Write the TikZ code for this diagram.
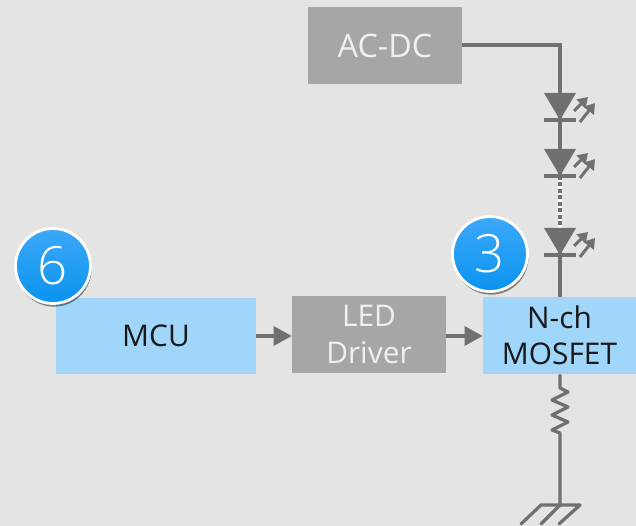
\documentclass[tikz,border=0pt]{standalone}
\usepackage{fontspec}
\setmainfont{Open Sans}
\newfontfamily\lightfont{Open Sans Light}
\usetikzlibrary{arrows.meta,shadows}
\definecolor{bggray}{HTML}{E4E4E4}
\definecolor{boxgray}{HTML}{A6A6A6}
\definecolor{boxblue}{HTML}{9FD6FA}
\definecolor{wiregray}{HTML}{707070}
\definecolor{badgetop}{HTML}{3CA8F9}
\definecolor{badgebot}{HTML}{0A93EF}
\tikzset{gray block/.style={fill=boxgray, text=white!94!black, rectangle, rounded corners=0.5pt, minimum width=3.08cm, minimum height=1.54cm, inner sep=0pt, align=center, font=\fontsize{17}{21}\selectfont}}
\tikzset{blue block/.style={gray block, fill=boxblue, text=black!90, rounded corners=0pt}}
\tikzset{badge/.style={circle, draw=white, line width=1.6pt, top color=badgetop, bottom color=badgebot, text=white, minimum size=1.5cm, inner sep=0pt, font=\lightfont\fontsize{30}{30}\selectfont, drop shadow={shadow xshift=0.6pt, shadow yshift=-1.8pt, opacity=0.45, fill=black}}}
\tikzset{wire/.style={draw=wiregray, line width=1.85pt}}
\tikzset{feed/.style={wire, -{Triangle[length=0.36cm, width=0.38cm]}}}
\tikzset{spark/.style={draw=wiregray, line width=1.7pt, -{Triangle[length=0.2cm, width=0.25cm]}}}
\tikzset{pics/led/.style={code={
  \fill[wiregray] (-16,0) -- (16,0) -- (0,27) -- cycle;
  \draw[wire, line width=1.8pt] (-16,27) -- (16,27);
  \draw[spark] (14,18) -- (28,4);
  \draw[spark] (20,29) -- (35,10);
}}}
\begin{document}
\begin{tikzpicture}[x=0.02cm, y=-0.02cm]
\fill[bggray] (0,0) rectangle (636,526);
\useasboundingbox (0,0) rectangle (636,526);
\node[gray block, font=\fontsize{18.4}{21}\selectfont] (acdc) at (385,45.5) {AC-DC};
\node[blue block, minimum width=4cm, minimum height=1.52cm] (mcu) at (156,336) {MCU};
\node[gray block] (driver) at (369,334.5) {LED\\Driver};
\node[blue block, minimum width=3.06cm] (mosfet) at (559.5,335.5) {N-ch\\[-0.5pt]MOSFET};
\coordinate (led1) at (560,93);
\coordinate (led2) at (560,149);
\coordinate (led2k) at (560,176);
\coordinate (led3) at (560,228);
\coordinate (res) at (560,388);
\coordinate (gnd) at (560,505);
\draw[wire] (acdc.east |- 0,45) -| (led1) -- (led2k);
\draw[white, line width=1.85pt] (led2k) -- (led3);
\draw[wiregray, line width=1.85pt, dash pattern=on 2.2pt off 1.5pt] (led2k) -- (led3);
\draw[wire] (led3) -- (mosfet.north -| led3);
\pic at (led1) {led};
\pic at (led2) {led};
\pic at (led3) {led};
\draw[feed] (mcu.east |- 0,336) -- (driver.west |- 0,336);
\draw[feed] (driver.east |- 0,336) -- (mosfet.west |- 0,336);
% resistor and ground
\draw[wire, line join=round] (mosfet.south -| res) -- (res) -- ++(8,4) -- ++(-16,8) -- ++(16,7) -- ++(-16,8) -- ++(16,7) -- ++(-16,8) -- ++(8,3) -- (gnd);
\draw[wire, line cap=round, line join=round] (gnd) ++(-39,19) -- ++(20,-19) -- ++(39,0) -- ++(-21,19);
\draw[wire, line cap=round] (gnd) -- ++(-19,19);
\node[badge] (six) at (53,266) {6};
\node[badge] (three) at (490,254) {3};
\end{tikzpicture}
\end{document}
